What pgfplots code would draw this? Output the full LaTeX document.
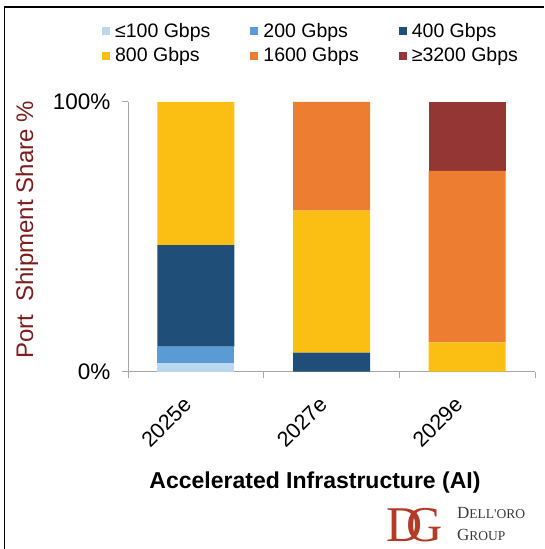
\documentclass[border=0pt]{standalone}
\usepackage{pgfplots}
\pgfplotsset{compat=1.18}
\usepackage{fontspec}
\setmainfont{Liberation Sans}
\newfontfamily\logofont{Liberation Serif}
\definecolor{cA}{HTML}{BDD7EE}
\definecolor{cB}{HTML}{5B9BD5}
\definecolor{cC}{HTML}{1F4E79}
\definecolor{cD}{HTML}{FBBF14}
\definecolor{cE}{HTML}{ED7D31}
\definecolor{cF}{HTML}{943634}
\definecolor{ylab}{HTML}{7A1E1E}
\definecolor{axgray}{HTML}{A6A6A6}
\definecolor{logored}{HTML}{B23A26}
\definecolor{logotext}{HTML}{3A3A3A}
\begin{document}
\begin{tikzpicture}
\path[use as bounding box] (0pt,0pt) rectangle (544pt,549pt);
\draw[line width=1.5pt] (4.5pt,0pt) -- (4.5pt,542pt) -- (544pt,542pt);
\begin{axis}[
  at={(128pt,177.3pt)}, anchor=south west,
  scale only axis, width=407pt, height=269.7pt,
  xmin=-0.5, xmax=2.5, ymin=0, ymax=100,
  ybar stacked, bar width=77pt,
  axis x line*=bottom, axis y line*=left,
  axis line style={draw=axgray, line width=1pt, -},
  xtick={0,1,2}, xticklabels={2025e,2027e,2029e},
  major x tick style={draw=none},
  extra x ticks={-0.5,0.5,1.5,2.5}, extra x tick labels={},
  extra x tick style={major tick length=6pt, tick align=outside, major x tick style={draw=axgray, line width=1pt}},
  ytick={0,100}, yticklabels={0\%,100\%},
  major y tick style={draw=axgray, line width=1pt},
  tick align=outside, major tick length=6pt,
  every tick label/.append style={font=\fontsize{22.5}{27}\selectfont, text=black},
  yticklabel style={xshift=-8pt},
  xticklabel style={font=\fontsize{21.5}{26}\selectfont, yshift=-21pt, xshift=-6pt, rotate=45, anchor=east},
  legend columns=3,
  legend cell align=left,
  legend style={draw=none, fill=none, inner sep=0pt,
    at={(axis description cs:-0.064,1.293)}, anchor=north west,
    font=\fontsize{19.5}{22}\selectfont,
    row sep=9pt,
    nodes={inner sep=0pt},
    /tikz/every odd column/.append style={column sep=5pt},
    /tikz/every even column/.append style={column sep=40pt}},
  legend image code/.code={\fill[#1] (0pt,-4pt) rectangle (8pt,4pt);},
]
\addplot[fill=cA, draw=none] coordinates {(0,3.1) (1,0) (2,0)};
\addplot[fill=cB, draw=none] coordinates {(0,6.2) (1,0) (2,0)};
\addplot[fill=cC, draw=none] coordinates {(0,37.6) (1,7.1) (2,0)};
\addplot[fill=cD, draw=none] coordinates {(0,53.1) (1,52.6) (2,10.9)};
\addplot[fill=cE, draw=none] coordinates {(0,0) (1,40.3) (2,63.6)};
\addplot[fill=cF, draw=none] coordinates {(0,0) (1,0) (2,25.5)};
\legend{≤100 Gbps, 200 Gbps, 400 Gbps, 800 Gbps, 1600 Gbps, ≥3200 Gbps}
\end{axis}
\node[rotate=90, text=ylab, font=\fontsize{24}{28}\selectfont] at (27pt,319pt) {Port\ \ Shipment Share \%};
\node[font=\bfseries\fontsize{23}{27}\selectfont] at (315pt,66pt) {Accelerated Infrastructure (AI)};
\node[text=logored, font=\logofont\fontsize{50}{50}\selectfont, inner sep=0pt, text depth=0pt, anchor=base] at (415pt,8pt) {D\kern-16pt G};
\node[text=logotext, font=\logofont, anchor=west, inner sep=0pt] at (457pt,36pt) {\fontsize{17}{17}\selectfont D\fontsize{13.5}{13.5}\selectfont ELL'ORO};
\node[text=logotext, font=\logofont, anchor=west, inner sep=0pt] at (457pt,14pt) {\fontsize{17}{17}\selectfont G\fontsize{13.5}{13.5}\selectfont ROUP};
\end{tikzpicture}
\end{document}
